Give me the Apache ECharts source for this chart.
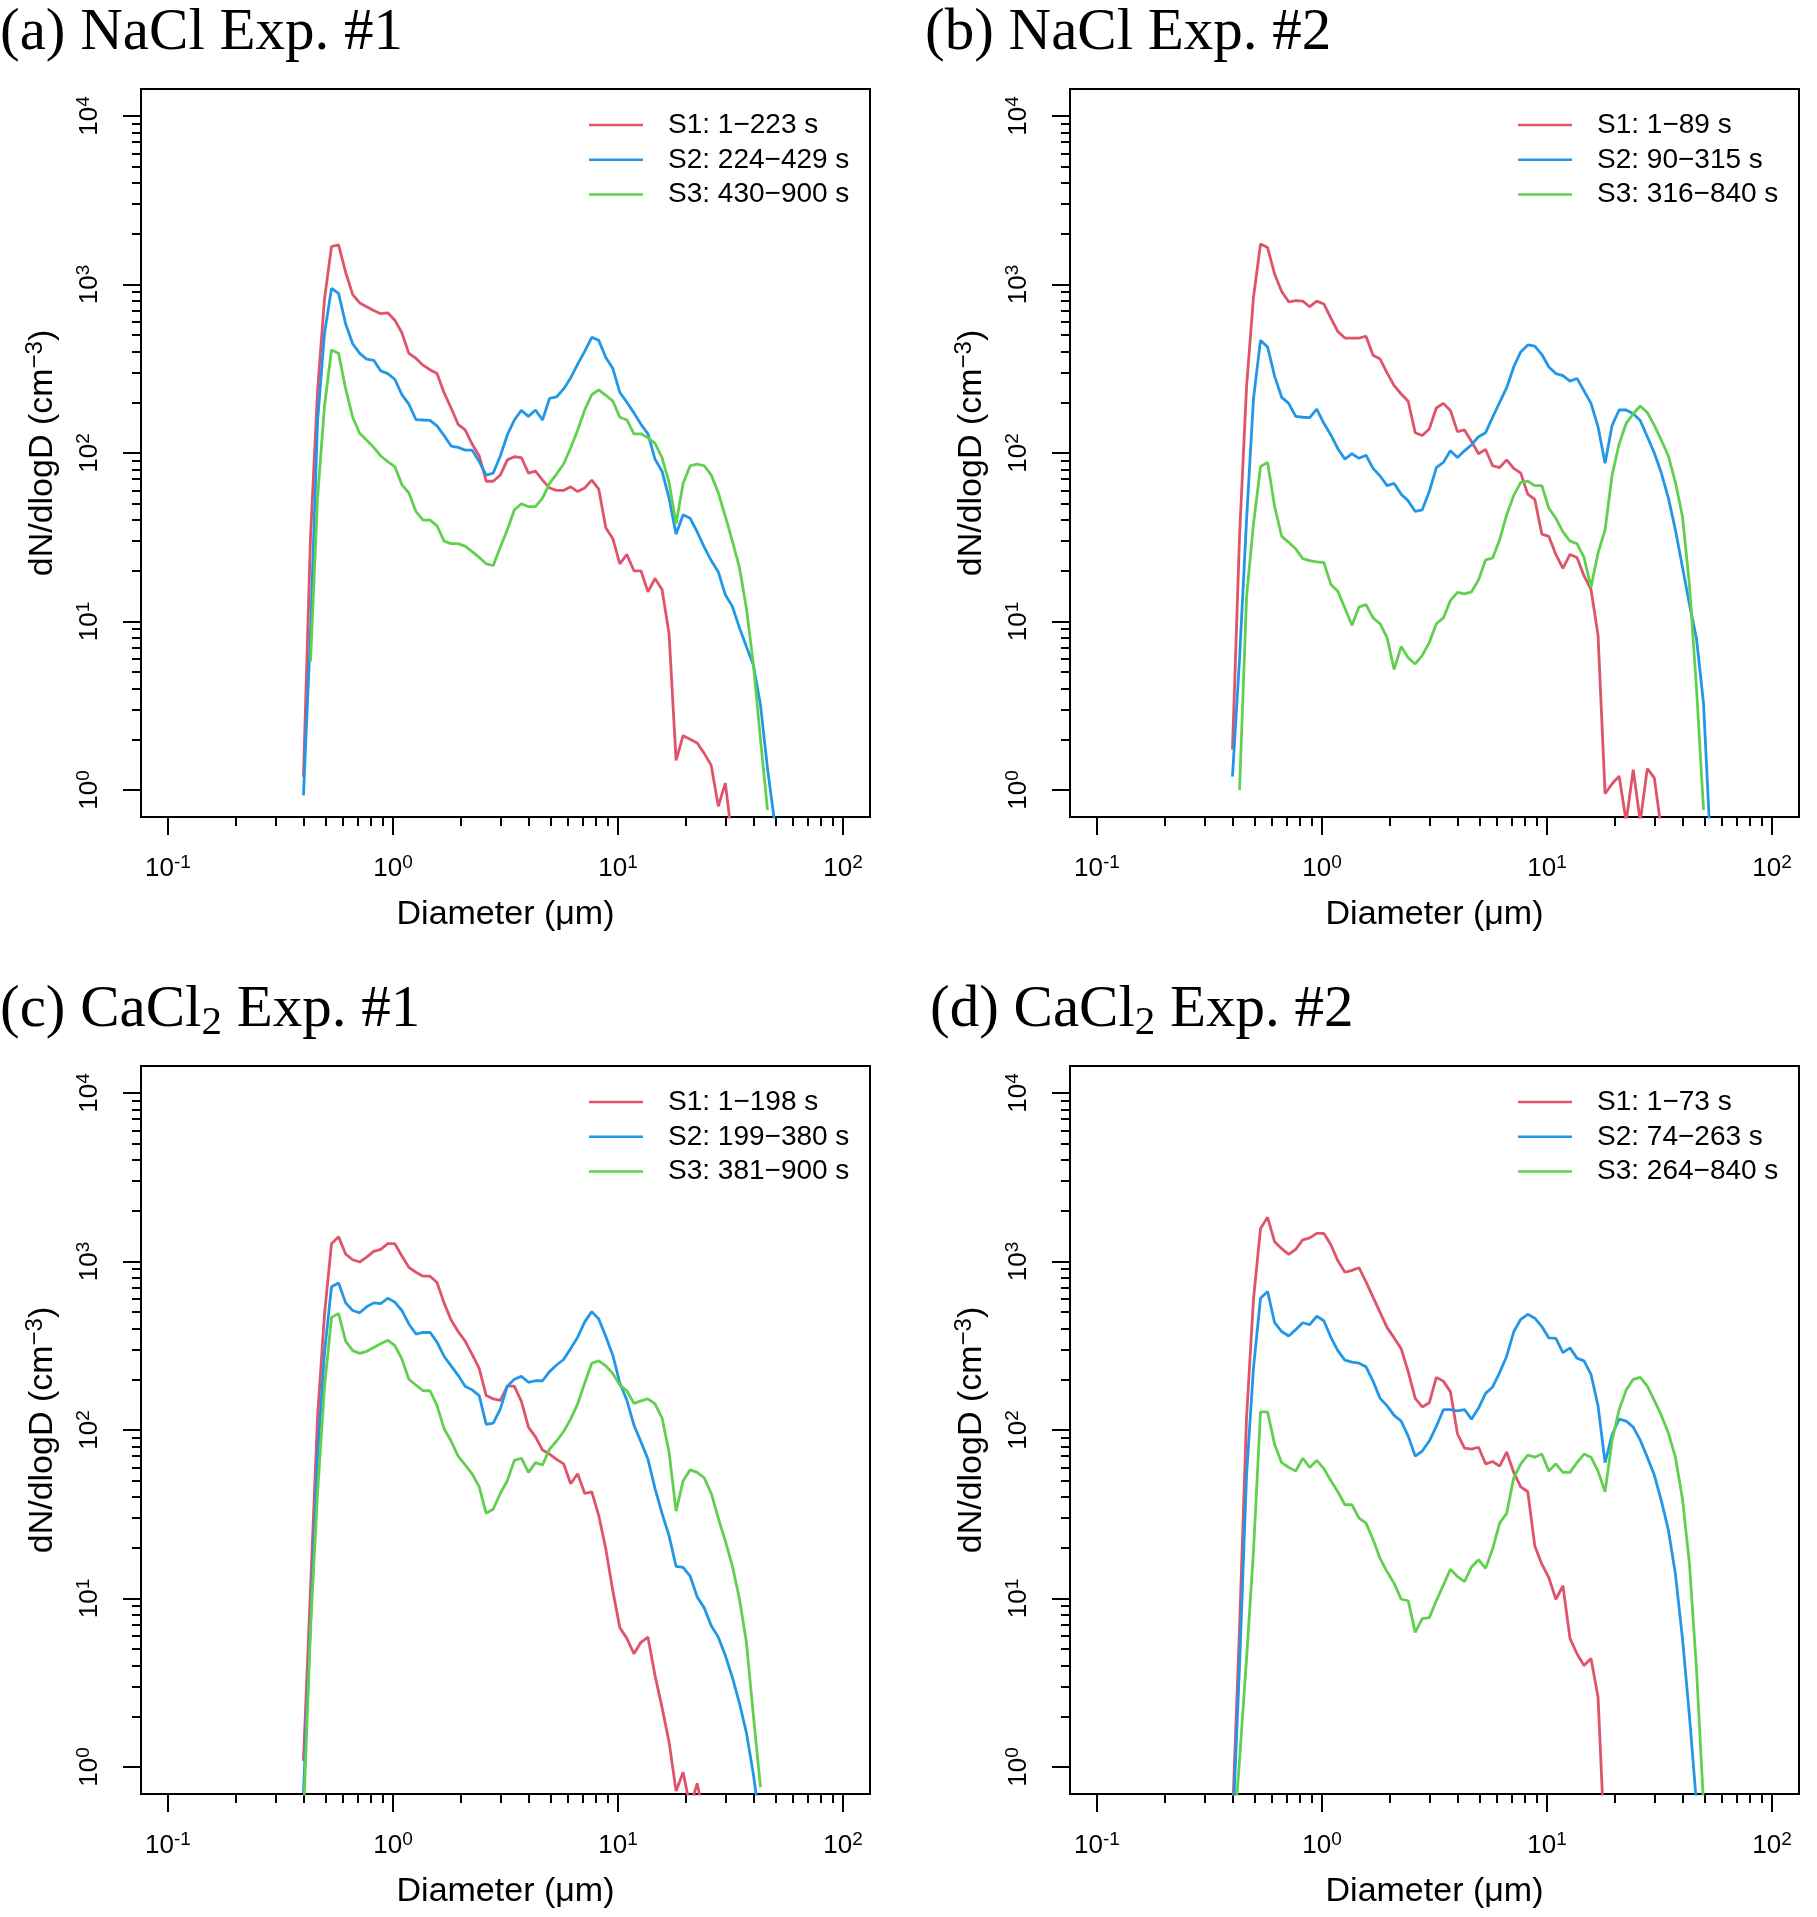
<!DOCTYPE html>
<html>
<head>
<meta charset="utf-8">
<title>Size distributions</title>
<script src="https://cdn.jsdelivr.net/npm/echarts@6/dist/echarts.min.js"></script>
<style>
html, body { margin: 0; padding: 0; background: #fff; }
#main { width: 1817px; height: 1917px; }
</style>
</head>
<body>
<div id="main"></div>
<script>
// bin diameters (um)
var diameters = [0.400, 0.430, 0.462, 0.496, 0.533, 0.573, 0.616, 0.662, 0.711, 0.764,
  0.821, 0.882, 0.948, 1.019, 1.095, 1.176, 1.264, 1.359, 1.460, 1.569,
  1.686, 1.812, 1.947, 2.092, 2.248, 2.416, 2.596, 2.790, 2.998, 3.222,
  3.462, 3.720, 4.000, 4.298, 4.619, 4.963, 5.334, 5.732, 6.159, 6.619,
  7.113, 7.644, 8.214, 8.827, 9.486, 10.19, 10.95, 11.77, 12.65, 13.59,
  14.60, 15.69, 16.86, 18.12, 19.47, 20.92, 22.49, 24.17, 25.97, 27.91,
  29.99, 32.23, 34.63, 37.21, 40.00, 42.98, 46.19, 49.63, 53.34];

// (a) NaCl Exp. #1
var naclExp1S1 = [1.2, 32, 234, 818, 1680, 1720, 1180, 871, 777, 738, 700, 671, 679, 614, 517, 390, 365, 332, 312, 296,
  228, 185, 148, 137, 113, 96, 68, 68, 74, 91, 95, 94, 76, 78, 69, 62, 60, 60, 63, 59,
  62, 69, 61, 36, 31, 22, 25, 20, 20, 15, 18, 15.5, 8.5, 1.5, 2.1, 2.0, 1.9, 1.65, 1.4, 0.8, 1.1, 0.5];
var naclExp1S2 = [0.93, 8.7, 154, 512, 948, 885, 583, 445, 390, 361, 355, 307, 296, 274, 222, 195, 158, 157, 156, 145,
  127, 110, 108, 104, 104, 89, 74, 76, 96, 128, 157, 179, 165, 180, 157, 211, 215, 240, 279, 337,
  401, 486, 466, 369, 317, 229, 200, 173, 148, 130, 92, 78, 54, 33, 43, 41, 34, 27.6, 23, 19.7,
  14.4, 12.3, 9.2, 7.1, 5.5, 3.2, 1.34, 0.65];
var naclExp1S3 = [null, 5.8, 54, 190, 409, 390, 240, 163, 131, 119, 108, 96, 89, 83, 65, 58, 45, 40, 40, 37,
  30, 29, 29, 28, 26, 24, 22, 21.5, 27.6, 35, 46, 50, 48, 48, 54, 66, 75, 86, 107, 137,
  180, 222, 237, 220, 203, 163, 157, 130, 130, 123, 114, 94, 67, 38, 66, 84, 86, 84, 74, 58,
  42, 30, 21, 12, 5.5, 2.0, 0.76];

// (b) NaCl Exp. #2
var naclExp2S1 = [1.74, 32, 247, 840, 1740, 1655, 1150, 908, 789, 801, 797, 738, 797, 766, 631, 526, 481, 481, 481, 493,
  380, 361, 299, 251, 224, 203, 132, 127, 139, 185, 197, 179, 134, 137, 117, 99, 105, 84, 82, 91,
  81, 76, 57, 53, 33, 32, 25, 20.7, 25, 24, 18.7, 15.5, 8.3, 0.95, 1.09, 1.21, 0.65, 1.32, 0.65, 1.34, 1.18, 0.58];
var naclExp2S2 = [1.2, 6, 40, 210, 466, 426, 285, 214, 197, 165, 163, 162, 182, 150, 128, 106, 92, 99, 93, 97,
  81, 73, 64, 66, 57, 52, 45, 46, 59, 82, 88, 103, 94, 103, 112, 125, 132, 163, 200, 244,
  324, 398, 438, 431, 384, 324, 296, 288, 267, 277, 234, 197, 143, 87, 146, 180, 180, 171, 156, 125,
  100, 76, 54, 35, 21, 12.6, 7.9, 3.25, 0.45];
var naclExp2S3 = [null, 1.0, 14, 38, 83, 88, 48, 32, 29.5, 27, 23.6, 23, 22.6, 22.4, 16.6, 15.1, 12, 9.5, 12.2, 12.6,
  10.5, 9.7, 8.0, 5.2, 7.1, 6.1, 5.6, 6.3, 7.5, 9.7, 10.5, 13.3, 14.9, 14.6, 15, 17.7, 23.2, 23.8, 30.6, 43,
  56, 67, 68, 64, 64, 47, 41, 34, 30, 29, 24, 16, 25.5, 35, 74, 113, 150, 171, 190, 174,
  146, 119, 96, 67, 42, 16.4, 4.0, 0.76];

// (c) CaCl2 Exp. #1
var cacl2Exp1S1 = [1.09, 11.4, 119, 486, 1275, 1400, 1107, 1024, 993, 1062, 1148, 1180, 1275, 1275, 1078, 923, 863, 818, 818, 750,
  568, 449, 384, 337, 281, 232, 160, 153, 150, 182, 182, 148, 104, 91, 76, 72, 67, 63, 48, 55,
  42, 43, 31, 19.7, 11.1, 6.7, 5.8, 4.7, 5.5, 5.9, 3.5, 2.26, 1.41, 0.72, 0.93, 0.58, 0.8, 0.5];
var cacl2Exp1S2 = [0.7, 7.1, 70, 288, 708, 745, 568, 512, 496, 539, 568, 562, 605, 574, 512, 426, 371, 379, 380, 332,
  274, 240, 211, 182, 173, 160, 108, 110, 133, 182, 200, 208, 192, 196, 196, 222, 243, 262, 304, 355,
  438, 504, 456, 359, 277, 190, 150, 107, 85, 67, 45, 32, 23.6, 15.5, 15.3, 13.6, 10.2, 8.8, 6.9, 5.9,
  4.6, 3.4, 2.4, 1.6, 0.9, 0.44];
var cacl2Exp1S3 = [0.5, 6.7, 42, 180, 466, 491, 337, 296, 285, 293, 309, 325, 341, 317, 264, 200, 185, 171, 171, 140,
  102, 86, 70, 62, 55, 46, 32, 34, 42, 50, 66, 68, 56, 64, 62, 77, 86, 98, 116, 143,
  190, 249, 257, 240, 216, 185, 171, 144, 149, 153, 143, 118, 74, 33, 50, 58, 56, 52, 42, 30,
  22, 15.6, 10, 5.5, 2.0, 0.76];

// (d) CaCl2 Exp. #2
var cacl2Exp2S1 = [0.5, 6.7, 119, 598, 1571, 1829, 1309, 1191, 1102, 1180, 1343, 1380, 1468, 1468, 1256, 1009, 863, 885, 918, 757,
  615, 499, 405, 352, 304, 222, 154, 137, 145, 205, 195, 169, 95, 78, 77, 79, 63, 65, 61, 74,
  56, 46, 43, 20.5, 16, 13.3, 9.9, 11.9, 5.8, 4.7, 4.0, 4.4, 2.6, 0.3];
var cacl2Exp2S2 = [0.4, 4.0, 54, 234, 605, 664, 433, 384, 361, 394, 433, 422, 473, 445, 355, 296, 260, 253, 249, 237,
  195, 154, 139, 122, 113, 92, 70, 75, 86, 105, 132, 132, 130, 132, 116, 135, 165, 180, 219, 274,
  382, 454, 486, 461, 411, 352, 350, 288, 307, 267, 257, 214, 139, 64, 94, 116, 113, 104, 87, 69,
  54, 38, 25.5, 14, 5.8, 2.0, 0.6];
var cacl2Exp2S3 = [0.3, 1.1, 4.4, 19, 128, 128, 82, 64, 60, 57, 68, 60, 66, 59, 50, 43, 36, 36, 30, 28,
  22.4, 17.3, 14.4, 12.3, 9.9, 9.7, 6.3, 7.6, 7.7, 9.7, 12, 14.9, 13.5, 12.6, 15.4, 17, 15.1, 19.7, 28, 32,
  52, 63, 71, 69, 72, 57, 63, 56, 56, 64, 72, 69, 57, 43, 87, 132, 173, 200, 205, 182,
  150, 122, 96, 69, 39, 16, 3.8, 0.6];

var legendA = ['S1: 1\u2212223 s', 'S2: 224\u2212429 s', 'S3: 430\u2212900 s'];
var legendB = ['S1: 1\u221289 s', 'S2: 90\u2212315 s', 'S3: 316\u2212840 s'];
var legendC = ['S1: 1\u2212198 s', 'S2: 199\u2212380 s', 'S3: 381\u2212900 s'];
var legendD = ['S1: 1\u221273 s', 'S2: 74\u2212263 s', 'S3: 264\u2212840 s'];

// tick exponents (log10)
var xDecades = [-1, 0, 1, 2];
var yDecades = [0, 1, 2, 3, 4];
var minorSteps = [2, 3, 4, 5, 6, 7, 8, 9];

var colors = ['#DF536B', '#2297E6', '#61D04F'];
var sansFont = 'Liberation Sans';
var serifFont = 'Liberation Serif';

var panels = [
  { left: 141, top: 89, titleLeft: 0, title: '{m|(a) NaCl Exp. #1}',
    data: [naclExp1S1, naclExp1S2, naclExp1S3], names: legendA },
  { left: 1070, top: 89, titleLeft: 925, title: '{m|(b) NaCl Exp. #2}',
    data: [naclExp2S1, naclExp2S2, naclExp2S3], names: legendB },
  { left: 141, top: 1066, titleLeft: 0, title: '{m|(c) CaCl}{sub|2}{m| Exp. #1}',
    data: [cacl2Exp1S1, cacl2Exp1S2, cacl2Exp1S3], names: legendC },
  { left: 1070, top: 1066, titleLeft: 930, title: '{m|(d) CaCl}{sub|2}{m| Exp. #2}',
    data: [cacl2Exp2S1, cacl2Exp2S2, cacl2Exp2S3], names: legendD }
];

function minorTicks(decades) {
  var out = [];
  for (var i = 0; i < decades.length - 1; i++) {
    for (var j = 0; j < minorSteps.length; j++) {
      out.push(decades[i] + Math.log10(minorSteps[j]));
    }
  }
  return out;
}

function powLabel(v) {
  return '10{s|' + Math.round(v) + '}';
}

var powRich = {
  s: { fontFamily: sansFont, fontSize: 19, lineHeight: 19, verticalAlign: 'top', color: '#000' }
};

var tickLine = { color: '#000', width: 2 };

var grids = [], xAxes = [], yAxes = [], titles = [], legends = [], series = [];

panels.forEach(function (p, k) {
  grids.push({
    left: p.left, top: p.top, width: 729, height: 728,
    show: true, borderColor: '#000', borderWidth: 2, backgroundColor: 'transparent'
  });

  xAxes.push({
    type: 'value', gridIndex: k, min: -1.12, max: 2.12, position: 'bottom',
    axisLine: { show: false, onZero: false }, splitLine: { show: false },
    axisTick: { show: true, customValues: xDecades, length: 18, lineStyle: tickLine },
    axisLabel: { show: true, customValues: xDecades, margin: 36, fontSize: 26, lineHeight: 32,
      fontFamily: sansFont, color: '#000', formatter: powLabel, rich: powRich },
    name: 'Diameter (\u03bcm)', nameLocation: 'middle', nameGap: 78,
    nameTextStyle: { fontFamily: sansFont, fontSize: 34, lineHeight: 40, color: '#000' }
  });
  xAxes.push({
    type: 'value', gridIndex: k, min: -1.12, max: 2.12, position: 'bottom',
    axisLine: { show: false, onZero: false }, splitLine: { show: false }, axisLabel: { show: false },
    axisTick: { show: true, customValues: minorTicks(xDecades), length: 9, lineStyle: tickLine }
  });

  yAxes.push({
    type: 'value', gridIndex: k, min: -0.16, max: 4.16, position: 'left',
    axisLine: { show: false, onZero: false }, splitLine: { show: false },
    axisTick: { show: true, customValues: yDecades, length: 18, lineStyle: tickLine },
    axisLabel: { show: true, customValues: yDecades, margin: 35, rotate: 90, fontSize: 26, lineHeight: 32,
      fontFamily: sansFont, color: '#000', formatter: powLabel, rich: powRich },
    name: '{n|dN/dlogD (cm}{s|\u22123}{n|)}', nameLocation: 'middle', nameGap: 78,
    nameTextStyle: {
      color: '#000',
      rich: {
        n: { fontFamily: sansFont, fontSize: 34, lineHeight: 40, color: '#000' },
        s: { fontFamily: sansFont, fontSize: 24, lineHeight: 24, verticalAlign: 'top', color: '#000' }
      }
    }
  });
  yAxes.push({
    type: 'value', gridIndex: k, min: -0.16, max: 4.16, position: 'left',
    axisLine: { show: false, onZero: false }, splitLine: { show: false }, axisLabel: { show: false },
    axisTick: { show: true, customValues: minorTicks(yDecades), length: 9, lineStyle: tickLine }
  });

  titles.push({
    text: p.title, left: p.titleLeft, top: p.top - 85, padding: 0,
    textStyle: {
      fontWeight: 'normal', fontFamily: serifFont, fontSize: 59,
      rich: {
        m: { fontFamily: serifFont, fontWeight: 'normal', fontSize: 59, lineHeight: 59, verticalAlign: 'top', color: '#000' },
        sub: { fontFamily: serifFont, fontWeight: 'normal', fontSize: 41, lineHeight: 41, padding: [22, 0, 0, 0], verticalAlign: 'top', color: '#000' }
      }
    }
  });

  legends.push({
    orient: 'vertical', left: p.left + 448, top: p.top + 21, padding: 0,
    icon: 'rect', itemWidth: 54, itemHeight: 2.5, itemGap: 4.8, selectedMode: false,
    textStyle: { fontFamily: sansFont, fontSize: 28, lineHeight: 30, color: '#000', padding: [0, 0, 0, 20] },
    data: p.names
  });

  p.data.forEach(function (vals, s) {
    var pts = [];
    for (var i = 0; i < diameters.length; i++) {
      if (i < vals.length && vals[i] != null) {
        pts.push([Math.log10(diameters[i]), Math.log10(vals[i])]);
      }
    }
    series.push({
      type: 'line', name: p.names[s], xAxisIndex: 2 * k, yAxisIndex: 2 * k,
      data: pts, symbol: 'none', showSymbol: false, clip: true,
      color: colors[s], lineStyle: { color: colors[s], width: 2.8 },
      emphasis: { disabled: true }
    });
  });
});

var myChart = echarts.init(document.getElementById('main'));
var option = {
  animation: false,
  backgroundColor: '#fff',
  title: titles,
  legend: legends,
  grid: grids,
  xAxis: xAxes,
  yAxis: yAxes,
  series: series
};
myChart.setOption(option);
</script>
</body>
</html>
